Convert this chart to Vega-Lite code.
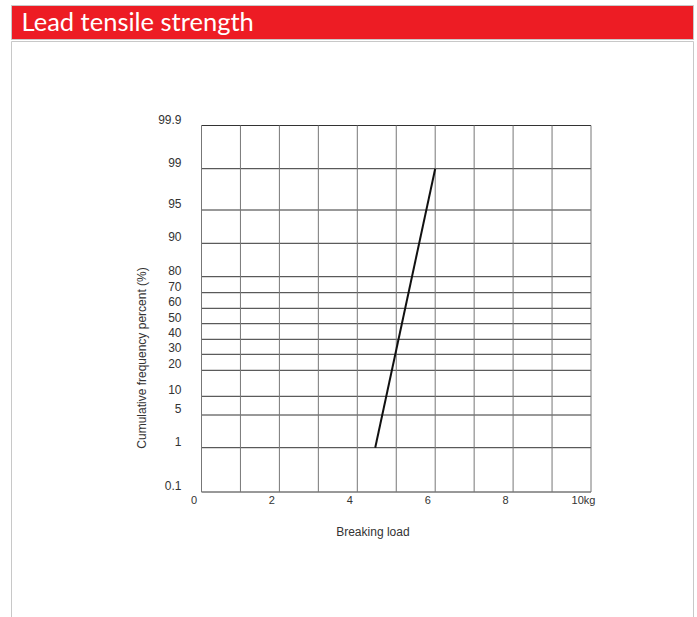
{
  "$schema": "https://vega.github.io/schema/vega-lite/v6.json",
  "padding": {"left": 10, "top": 4, "right": 0, "bottom": 0},
  "spacing": 0,
  "config": {"font": "Liberation Sans", "concat": {"spacing": 0}},
  "datasets": {
    "yticks": [
      {"p": 0.1, "label": "0.1"},
      {"p": 1, "label": "1"},
      {"p": 5, "label": "5"},
      {"p": 10, "label": "10"},
      {"p": 20, "label": "20"},
      {"p": 30, "label": "30"},
      {"p": 40, "label": "40"},
      {"p": 50, "label": "50"},
      {"p": 60, "label": "60"},
      {"p": 70, "label": "70"},
      {"p": 80, "label": "80"},
      {"p": 90, "label": "90"},
      {"p": 95, "label": "95"},
      {"p": 99, "label": "99"},
      {"p": 99.9, "label": "99.9"}
    ],
    "xgrid": [
      {"v": 0}, {"v": 1}, {"v": 2}, {"v": 3}, {"v": 4}, {"v": 5},
      {"v": 6}, {"v": 7}, {"v": 8}, {"v": 9}, {"v": 10}
    ],
    "xlabels": [
      {"v": 0, "label": "0"},
      {"v": 2, "label": "2"},
      {"v": 4, "label": "4"},
      {"v": 6, "label": "6"},
      {"v": 8, "label": "8"},
      {"v": 10, "label": "10kg"}
    ],
    "line": [
      {"load": 4.46, "pct": 1},
      {"load": 6.0, "pct": 99}
    ]
  },
  "vconcat": [
    {
      "width": 682,
      "height": 34,
      "view": {"fill": "#ED1C24", "stroke": "#c8c8c8"},
      "data": {"values": [{"label": "Lead tensile strength"}]},
      "mark": {"type": "text", "align": "left", "baseline": "alphabetic", "color": "white", "font": "Lato", "fontSize": 25.5},
      "encoding": {
        "x": {"value": 10.5},
        "y": {"value": 25.7},
        "text": {"field": "label"}
      }
    },
    {
      "width": 682,
      "height": 579,
      "view": {"stroke": "#c8c8c8", "fill": "white"},
      "layer": [
        {
          "data": {"name": "yticks"},
          "mark": {"type": "rule", "color": "#333", "strokeWidth": 1},
          "encoding": {
            "y": {
              "field": "p",
              "type": "quantitative",
              "axis": null,
              "scale": {
                "type": "linear",
                "zero": false,
                "nice": false,
                "domain": [0.1, 1, 5, 10, 20, 30, 40, 50, 60, 70, 80, 90, 95, 99, 99.9],
                "range": [451, 406.7, 374, 355.3, 329.3, 313.3, 298.3, 282.7, 267.3, 251.7, 235.7, 202.3, 169, 127.7, 84.5]
              }
            },
            "x": {
              "datum": 0,
              "type": "quantitative",
              "axis": null,
              "scale": {"domain": [0, 10], "range": [190.5, 580], "zero": false, "nice": false}
            },
            "x2": {"datum": 10}
          }
        },
        {
          "data": {"name": "xgrid"},
          "mark": {"type": "rule", "color": "#777", "strokeWidth": 1},
          "encoding": {
            "x": {"field": "v", "type": "quantitative", "axis": null},
            "y": {"datum": 0.1, "type": "quantitative", "axis": null},
            "y2": {"datum": 99.9}
          }
        },
        {
          "data": {"name": "yticks"},
          "mark": {"type": "text", "align": "right", "baseline": "middle", "dx": -20, "dy": -6, "fontSize": 12, "color": "#333"},
          "encoding": {
            "y": {"field": "p", "type": "quantitative", "axis": null},
            "x": {"datum": 0, "type": "quantitative", "axis": null},
            "text": {"field": "label"}
          }
        },
        {
          "data": {"name": "xlabels"},
          "mark": {"type": "text", "align": "center", "baseline": "middle", "dx": -7.5, "dy": 9, "fontSize": 11, "color": "#333"},
          "encoding": {
            "x": {"field": "v", "type": "quantitative", "axis": null},
            "y": {"datum": 0.1, "type": "quantitative", "axis": null},
            "text": {"field": "label"}
          }
        },
        {
          "data": {"name": "line"},
          "mark": {"type": "line", "color": "#111", "strokeWidth": 2},
          "encoding": {
            "x": {"field": "load", "type": "quantitative", "axis": null},
            "y": {"field": "pct", "type": "quantitative", "axis": null}
          }
        },
        {
          "data": {"values": [{"label": "Breaking load"}]},
          "mark": {"type": "text", "align": "center", "baseline": "middle", "dy": 40, "fontSize": 12, "color": "#333"},
          "encoding": {
            "x": {"datum": 4.4, "type": "quantitative", "axis": null},
            "y": {"datum": 0.1, "type": "quantitative", "axis": null},
            "text": {"field": "label"}
          }
        },
        {
          "data": {"values": [{"label": "Cumulative frequency percent  (%)"}]},
          "mark": {"type": "text", "align": "center", "baseline": "middle", "angle": 270, "dy": -60, "fontSize": 12, "color": "#333"},
          "encoding": {
            "x": {"datum": 0, "type": "quantitative", "axis": null},
            "y": {"datum": 27.7, "type": "quantitative", "axis": null},
            "text": {"field": "label"}
          }
        }
      ]
    }
  ]
}
